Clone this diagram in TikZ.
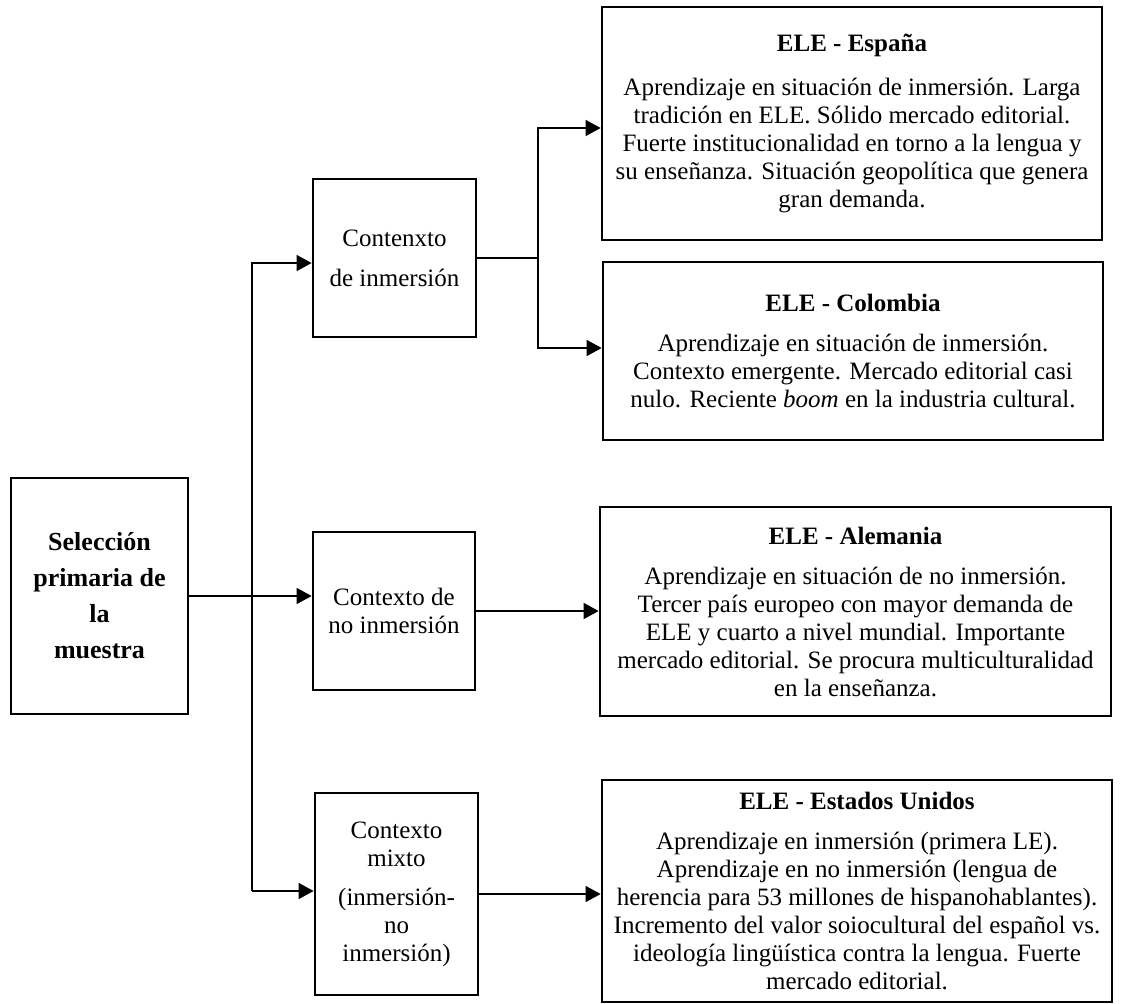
\documentclass[tikz,border=0pt]{standalone}
\usepackage{fontspec}
\setmainfont{Liberation Serif}
\usetikzlibrary{arrows.meta}

\begin{document}
\begin{tikzpicture}[x=1pt,y=-1pt,
  box/.style={draw, line width=2.7pt, rectangle, inner sep=0pt, align=center,
    font=\fontsize{25}{28}\selectfont},
  conn/.style={line width=1.3pt, line join=miter},
  arr/.style={conn, -{Triangle[length=15pt,width=16pt]}},
]
\useasboundingbox (0,0) rectangle (1141,1004);

% root
\node[box, minimum width=177pt, minimum height=236pt,
      font=\fontsize{26}{36}\selectfont\bfseries] (sel) at (99.5,596)
  {Selección\\primaria de\\la\\muestra};

% contexts
\node[box, minimum width=163pt, minimum height=158pt] (cinm) at (394.5,258)
  {Contenxto\\[12pt]de inmersión};
\node[box, minimum width=162pt, minimum height=158pt] (noinm) at (394,611)
  {Contexto de\\no inmersión};
\node[box, minimum width=163pt, minimum height=202pt] (mixto) at (396.5,894)
  {Contexto\\mixto\\[11pt](inmersión-\\no\\inmersión)};

% countries
\node[box, minimum width=500pt, minimum height=233pt] (espana) at (852,123.5)
  {\textbf{ELE - España}\\[16pt]
   Aprendizaje en situación de inmersión. Larga\\
   tradición en ELE. Sólido mercado editorial.\\
   Fuerte institucionalidad en torno a la lengua y\\
   su enseñanza. Situación geopolítica que genera\\
   gran demanda.};
\node[box, minimum width=500pt, minimum height=178pt] (colombia) at (853,351)
  {\textbf{ELE - Colombia}\\[12pt]
   Aprendizaje en situación de inmersión.\\
   Contexto emergente. Mercado editorial casi\\
   nulo. Reciente \textit{boom} en la industria cultural.};
\node[box, minimum width=511pt, minimum height=209pt] (alemania) at (855.5,611.5)
  {\textbf{ELE - Alemania}\\[12pt]
   Aprendizaje en situación de no inmersión.\\
   Tercer país europeo con mayor demanda de\\
   ELE y cuarto a nivel mundial. Importante\\
   mercado editorial. Se procura multiculturalidad\\
   en la enseñanza.};
\node[box, minimum width=510pt, minimum height=222pt] (eeuu) at (857,891)
  {\textbf{ELE - Estados Unidos}\\[12pt]
   Aprendizaje en inmersión (primera LE).\\
   Aprendizaje en no inmersión (lengua de\\
   herencia para 53 millones de hispanohablantes).\\
   Incremento del valor soiocultural del español vs.\\
   ideología lingüística contra la lengua. Fuerte\\
   mercado editorial.};

% branching points
\coordinate (trunktop) at (252,263);
\coordinate (trunkbot) at (252,891);
\coordinate (jn) at (538,258);
\coordinate (jup) at (538,128);
\coordinate (jdown) at (538,348);

% connectors
\draw[arr] (sel.east) -- (sel.east -| noinm.west);
\draw[arr] (trunkbot) -- (trunktop) -- (trunktop -| cinm.west);
\draw[arr] (trunkbot) -- (trunkbot -| mixto.west);
\draw[conn] (cinm.east) -- (jn);
\draw[arr] (jdown) -- (jup) -- (jup -| espana.west);
\draw[arr] (jn) -- (jdown) -- (jdown -| colombia.west);
\draw[arr] (noinm.east) -- (noinm.east -| alemania.west);
\draw[arr] (mixto.east) -- (mixto.east -| eeuu.west);
\end{tikzpicture}
\end{document}
